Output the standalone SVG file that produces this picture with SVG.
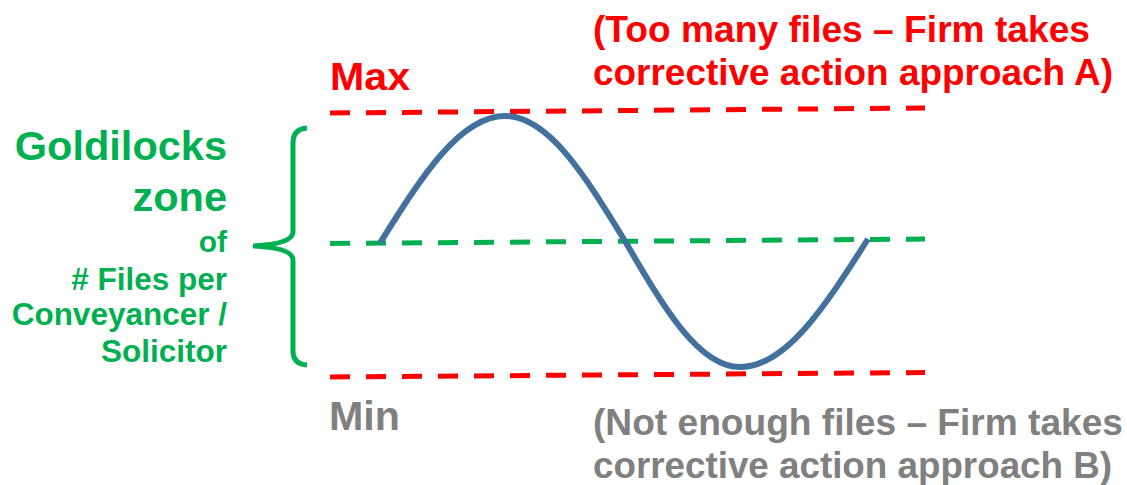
<svg xmlns="http://www.w3.org/2000/svg" width="1127" height="485" viewBox="0 0 1127 485">
<style>
text{font-family:"Liberation Sans",Arial,sans-serif;font-weight:bold}
.red{fill:#FF0000}
.grn{fill:#00B050}
.gry{fill:#808080}
.dash{fill:none;stroke-width:5;stroke-dasharray:20 16}
</style>
<rect width="1127" height="485" fill="#FFFFFF"/>
<g id="connectors">
<line class="dash" x1="330" y1="113" x2="925" y2="108" stroke="#FF0000"/>
<line class="dash" x1="330" y1="243.5" x2="925" y2="239" stroke="#00B050"/>
<line class="dash" x1="330" y1="377" x2="925" y2="372.5" stroke="#FF0000"/>
<path d="M380,243 C421.8,176.3 460,116 505,116 C548.2,116 584.9,175.4 625,241 C663.4,307.2 698.6,367 740,367 C786.1,367 825.2,306.2 868,239" fill="none" stroke="#41719C" stroke-width="6"/>
<path d="M307,128 Q293,129 293,143 V232 Q293,244 253,246 Q293,248 293,260 V351 Q293,364 307,365" fill="none" stroke="#00B050" stroke-width="5"/>
</g>
<g id="max"><text class="red" x="330" y="90" font-size="38" textLength="80" lengthAdjust="spacingAndGlyphs">Max</text></g>
<g id="min"><text class="gry" x="329" y="430" font-size="41" textLength="71" lengthAdjust="spacingAndGlyphs">Min</text></g>
<g id="too-many">
<text class="red" x="593" y="42" font-size="37" textLength="497" lengthAdjust="spacingAndGlyphs">(Too many files – Firm takes</text>
<text class="red" x="593" y="85" font-size="37" textLength="520" lengthAdjust="spacingAndGlyphs">corrective action approach A)</text>
</g>
<g id="not-enough">
<text class="gry" x="593" y="435" font-size="37" textLength="530" lengthAdjust="spacingAndGlyphs">(Not enough files – Firm takes</text>
<text class="gry" x="593" y="478" font-size="37" textLength="519" lengthAdjust="spacingAndGlyphs">corrective action approach B)</text>
</g>
<g id="goldilocks" text-anchor="end">
<text class="grn" x="227" y="160" font-size="41.5">Goldilocks</text>
<text class="grn" x="227" y="211" font-size="41.5">zone</text>
<text class="grn" x="227" y="252" font-size="30">of</text>
<text class="grn" x="227" y="290" font-size="31.5"># Files per</text>
<text class="grn" x="227" y="325" font-size="31.5">Conveyancer /</text>
<text class="grn" x="227" y="362" font-size="31.5">Solicitor</text>
</g>
</svg>
